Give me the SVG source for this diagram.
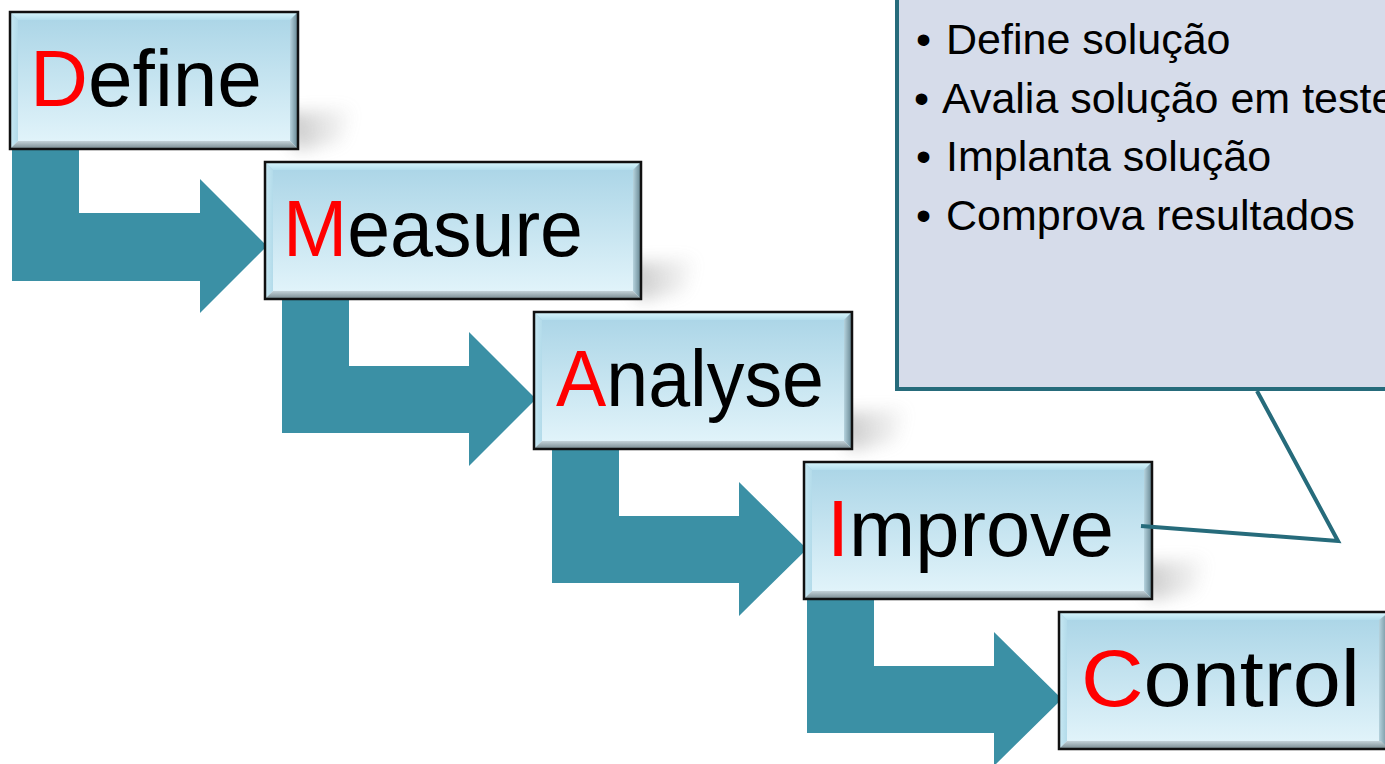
<svg xmlns="http://www.w3.org/2000/svg" width="1385" height="764" viewBox="0 0 1385 764">
<defs>
  <linearGradient id="gFace" x1="0" y1="0" x2="0" y2="1">
    <stop offset="0" stop-color="#a9d4e6"/>
    <stop offset="1" stop-color="#e4f5fb"/>
  </linearGradient>
  <linearGradient id="gTop" x1="0" y1="0" x2="0" y2="1">
    <stop offset="0" stop-color="#d9f8fe"/>
    <stop offset="1" stop-color="#b4dfee"/>
  </linearGradient>
  <linearGradient id="gLeft" x1="0" y1="0" x2="1" y2="0">
    <stop offset="0" stop-color="#c8e9f4"/>
    <stop offset="1" stop-color="#b3dbea"/>
  </linearGradient>
  <linearGradient id="gRight" x1="0" y1="0" x2="1" y2="0">
    <stop offset="0" stop-color="#b6d3de"/>
    <stop offset="1" stop-color="#63838f"/>
  </linearGradient>
  <linearGradient id="gBottom" x1="0" y1="0" x2="0" y2="1">
    <stop offset="0" stop-color="#c3d2d8"/>
    <stop offset="1" stop-color="#75888e"/>
  </linearGradient>
  <linearGradient id="gShadow" x1="0" y1="0" x2="1" y2="0">
    <stop offset="0" stop-color="#6a6a6a" stop-opacity="0.75"/>
    <stop offset="1" stop-color="#9a9a9a" stop-opacity="0.1"/>
  </linearGradient>
  <filter id="blur" x="-50%" y="-50%" width="200%" height="200%">
    <feGaussianBlur stdDeviation="8"/>
  </filter>
  <style>
    .face{fill:url(#gFace)}
    .btop{fill:url(#gTop)}
    .bleft{fill:url(#gLeft)}
    .bright{fill:url(#gRight)}
    .bbottom{fill:url(#gBottom)}
    .frame{fill:none;stroke:#111;stroke-width:2.5}
    .shadow{fill:url(#gShadow);opacity:0.6;filter:url(#blur)}
    .label{font-family:"Liberation Sans",Arial,sans-serif;font-size:80px;fill:#000}
    .initial{fill:#ff0000}
    .arrow{fill:#3b90a5}
    .callout{fill:#d6dcea;stroke:#266b7b;stroke-width:4}
    .leader{fill:none;stroke:#266b7b;stroke-width:4;stroke-linejoin:miter}
    .bullet{font-family:"Liberation Sans",Arial,sans-serif;font-size:43px;fill:#000}
  </style>
</defs>
<rect x="0" y="0" width="1385" height="764" fill="#ffffff"/>

<g id="connectors">
  <path class="arrow" d="M12,149 H79 V213 H200 V179 L267,246 L200,313 V281 H12 Z"/>
  <path class="arrow" d="M282,299 H349 V366 H469 V332 L536,399 L469,466 V433 H282 Z"/>
  <path class="arrow" d="M552,449 H619 V516 H739 V482 L807,549 L739,616 V583 H552 Z"/>
  <path class="arrow" d="M807,599 H874 V666 H994 V632 L1062,699 L994,766 V733 H807 Z"/>
</g>

<g id="define">
  <polygon class="shadow" points="280,114 352,108 342,142 296,151"/>
  <rect class="face" x="10" y="12" width="288" height="137"/>
  <polygon class="btop" points="10,12 298,12 290,20 18,20"/>
  <polygon class="bleft" points="10,12 18,20 18,141 10,149"/>
  <polygon class="bright" points="298,12 298,149 290,141 290,20"/>
  <polygon class="bbottom" points="10,149 298,149 290,141 18,141"/>
  <rect class="frame" x="10" y="12" width="288" height="137"/>
  <text class="label" x="30" y="106" textLength="232" lengthAdjust="spacingAndGlyphs"><tspan class="initial">D</tspan>efine</text>
</g>

<g id="measure">
  <polygon class="shadow" points="623,264 695,258 685,292 639,301"/>
  <rect class="face" x="265" y="162" width="376" height="137"/>
  <polygon class="btop" points="265,162 641,162 633,170 273,170"/>
  <polygon class="bleft" points="265,162 273,170 273,291 265,299"/>
  <polygon class="bright" points="641,162 641,299 633,291 633,170"/>
  <polygon class="bbottom" points="265,299 641,299 633,291 273,291"/>
  <rect class="frame" x="265" y="162" width="376" height="137"/>
  <text class="label" x="283" y="256" textLength="300" lengthAdjust="spacingAndGlyphs"><tspan class="initial">M</tspan>easure</text>
</g>

<g id="analyse">
  <polygon class="shadow" points="834,414 906,408 896,442 850,451"/>
  <rect class="face" x="534" y="312" width="318" height="137"/>
  <polygon class="btop" points="534,312 852,312 844,320 542,320"/>
  <polygon class="bleft" points="534,312 542,320 542,441 534,449"/>
  <polygon class="bright" points="852,312 852,449 844,441 844,320"/>
  <polygon class="bbottom" points="534,449 852,449 844,441 542,441"/>
  <rect class="frame" x="534" y="312" width="318" height="137"/>
  <text class="label" x="556" y="406" textLength="268" lengthAdjust="spacingAndGlyphs"><tspan class="initial">A</tspan>nalyse</text>
</g>

<g id="improve">
  <polygon class="shadow" points="1134,564 1206,558 1196,592 1150,601"/>
  <rect class="face" x="804" y="462" width="348" height="137"/>
  <polygon class="btop" points="804,462 1152,462 1144,470 812,470"/>
  <polygon class="bleft" points="804,462 812,470 812,591 804,599"/>
  <polygon class="bright" points="1152,462 1152,599 1144,591 1144,470"/>
  <polygon class="bbottom" points="804,599 1152,599 1144,591 812,591"/>
  <rect class="frame" x="804" y="462" width="348" height="137"/>
  <text class="label" x="827" y="556" textLength="287" lengthAdjust="spacingAndGlyphs"><tspan class="initial">I</tspan>mprove</text>
</g>

<g id="control">
  <rect class="face" x="1059" y="612" width="330" height="137"/>
  <polygon class="btop" points="1059,612 1389,612 1381,620 1067,620"/>
  <polygon class="bleft" points="1059,612 1067,620 1067,741 1059,749"/>
  <polygon class="bright" points="1389,612 1389,749 1379,741 1379,620"/>
  <polygon class="bbottom" points="1059,749 1389,749 1381,741 1067,741"/>
  <rect class="frame" x="1059" y="612" width="330" height="137"/>
  <text class="label" x="1081" y="706" textLength="279" lengthAdjust="spacingAndGlyphs"><tspan class="initial">C</tspan>ontrol</text>
</g>

<g id="callout">
  <rect class="callout" x="897" y="-10" width="500" height="399"/>
  <polyline class="leader" points="1257,391 1338,541 1141,526"/>
  <text class="bullet" y="54"><tspan x="916">•</tspan><tspan x="946">Define solução</tspan></text>
  <text class="bullet" y="113"><tspan x="914">•</tspan><tspan x="942">Avalia solução em teste</tspan></text>
  <text class="bullet" y="171"><tspan x="916">•</tspan><tspan x="946">Implanta solução</tspan></text>
  <text class="bullet" y="230"><tspan x="916">•</tspan><tspan x="946">Comprova resultados</tspan></text>
</g>
</svg>
